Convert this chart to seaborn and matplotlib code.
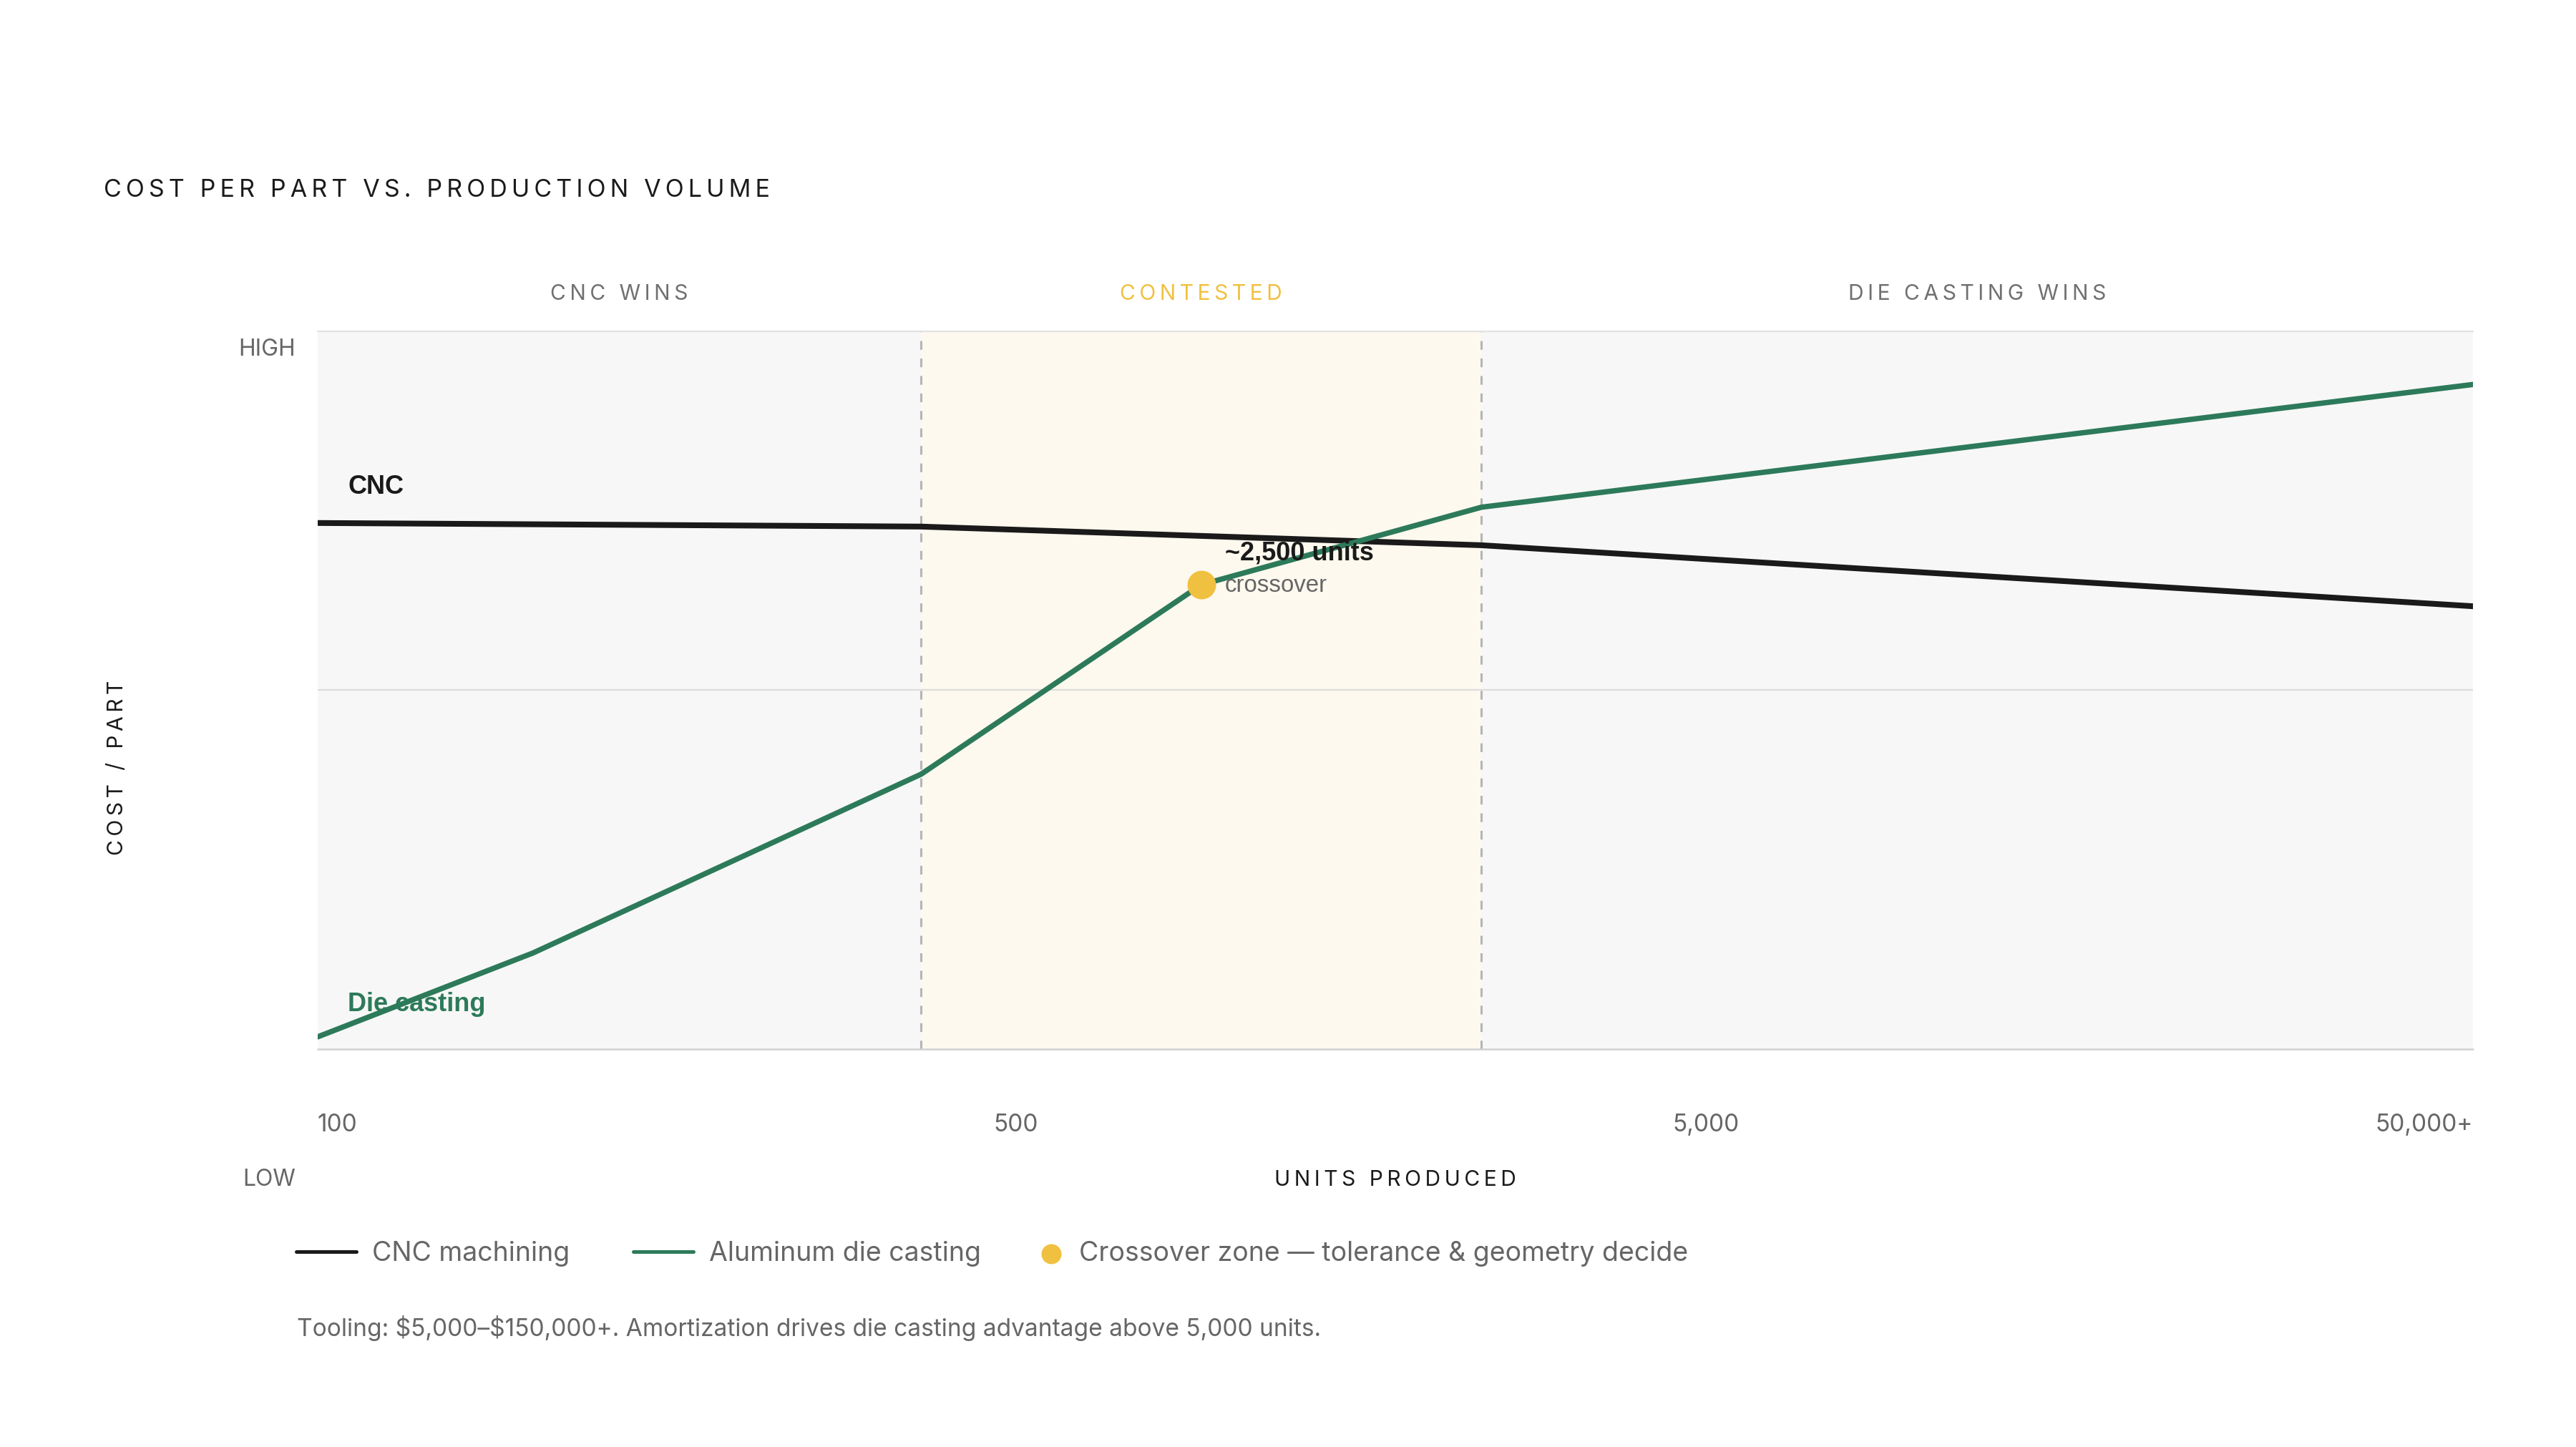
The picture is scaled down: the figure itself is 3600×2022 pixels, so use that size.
import matplotlib
matplotlib.use("Agg")
import matplotlib.pyplot as plt
import seaborn as sns
import pandas as pd

# x positions are share of the volume axis (0 = 100 units, 100 = 50,000+)
cnc_x = [0, 28, 54, 100]
cnc_cost = [73.3, 72.8, 70.2, 61.7]
die_x = [0, 10, 28, 41, 54, 100]
die_cost = [1.7, 13.4, 38.3, 64.7, 75.5, 92.6]
crossover_x = [41]
crossover_y = [64.7]

zone_edges = [0, 28, 54, 100]
zone_names = ["CNC WINS", "CONTESTED", "DIE CASTING WINS"]
tick_pos = [0, 32.4, 64.4, 100]
tick_labels = ["100", "500", "5,000", "50,000+"]

BLACK = "#1a1a1a"
GREEN = "#2d7a5a"
GOLD = "#f0c040"
GREY = "#666666"


def spaced(s):
    # css-like letter spacing with thin spaces
    return "\u2009".join(s)


sns.set_theme(style="white")
plt.rcParams["font.family"] = ["Inter", "DejaVu Sans"]

fig = plt.figure(figsize=(18, 10.11), dpi=200)
ax = fig.add_axes([0.1233, 0.2750, 0.8367, 0.4960])

# zone backgrounds
zone_bg = ["#f7f7f7", "#fdf9ee", "#f7f7f7"]
for i in range(3):
    ax.axvspan(zone_edges[i], zone_edges[i + 1], color=zone_bg[i], lw=0, zorder=0)
for xe in zone_edges[1:3]:
    ax.axvline(xe, color="#b5b5b5", lw=1.1, dashes=(4, 4), zorder=1)
ax.axhline(50, color="#dcdcdc", lw=0.8, zorder=1)
ax.axhline(100, color="#e2e2e2", lw=0.8, zorder=1, clip_on=False)
ax.axhline(0, color="#d0d0d0", lw=0.9, zorder=1, clip_on=False)

df_cnc = pd.DataFrame({"x": cnc_x, "cost": cnc_cost})
df_die = pd.DataFrame({"x": die_x, "cost": die_cost})
sns.lineplot(data=df_cnc, x="x", y="cost", ax=ax, color=BLACK, lw=2.9,
             label="CNC machining", zorder=3)
sns.lineplot(data=df_die, x="x", y="cost", ax=ax, color=GREEN, lw=2.7,
             label="Aluminum die casting", zorder=3)
dot = ax.scatter(crossover_x, crossover_y, s=207, color=GOLD, zorder=5, lw=0,
                 label="Crossover zone \u2014 tolerance & geometry decide")

ax.set_xlim(0, 100)
ax.set_ylim(0, 100)
for sp in ax.spines.values():
    sp.set_visible(False)
ax.set_xlabel("")
ax.set_ylabel("")
ax.set_yticks([])
ax.set_xticks(tick_pos, tick_labels)
ax.tick_params(axis="x", length=0, pad=32.5, labelsize=12, labelcolor=GREY)
xt = ax.get_xticklabels()
xt[0].set_ha("left")
xt[-1].set_ha("right")

# inline labels
lab_font = ["Liberation Sans", "DejaVu Sans"]
ax.text(1.4, 77.4, "CNC", color=BLACK, fontsize=13, fontweight="bold",
        family=lab_font, va="baseline", zorder=6)
ax.text(1.4, 5.3, "Die casting", color=GREEN, fontsize=13, fontweight="bold",
        family=lab_font, va="baseline", zorder=6)
ax.text(42.1, 68.1, "~2,500 units", color=BLACK, fontsize=13, fontweight="bold",
        family=lab_font, va="baseline", zorder=6)
ax.text(42.1, 63.7, "crossover", color=GREY, fontsize=11.9,
        family=lab_font, va="baseline", zorder=6)

# zone headers
zone_colors = ["#707070", GOLD, "#707070"]
for i, name in enumerate(zone_names):
    ax.text((zone_edges[i] + zone_edges[i + 1]) / 2, 104.4, spaced(name),
            ha="center", va="baseline", fontsize=10.8, color=zone_colors[i],
            clip_on=False)

ax.text(-0.0103, 0.966, "HIGH", transform=ax.transAxes, ha="right",
        va="baseline", fontsize=11.5, color=GREY)
ax.text(-0.0103, -0.190, "LOW", transform=ax.transAxes, ha="right",
        va="baseline", fontsize=11.5, color=GREY)
ax.text(0.5, -0.190, spaced("UNITS PRODUCED"), transform=ax.transAxes,
        ha="center", va="baseline", fontsize=10.8, color=BLACK)
ax.text(-0.093, 0.392, spaced("COST / PART"), transform=ax.transAxes,
        rotation=90, ha="center", va="center", fontsize=10.8, color=BLACK)

fig.text(145 / 3600, 1 - 275 / 2022, spaced("COST PER PART VS. PRODUCTION VOLUME"),
         ha="left", va="baseline", fontsize=12.25, color=BLACK)

# legend: two line entries, then the dot
ax.get_legend().remove()
handles, labels = ax.get_legend_handles_labels()
leg1 = fig.legend(handles[:2], labels[:2], loc="center left",
                  bbox_to_anchor=(414 / 3600, 0.1335), ncol=2, frameon=False,
                  fontsize=13.5, handlelength=2.24, handletextpad=0.59,
                  columnspacing=2.37, borderpad=0, borderaxespad=0)
for t in leg1.get_texts():
    t.set_color(GREY)
for ln in leg1.get_lines():
    ln.set_linewidth(1.8)
leg2 = fig.legend([dot], [labels[2]], loc="center left",
                  bbox_to_anchor=(1455 / 3600, 0.1335), frameon=False,
                  fontsize=13.5, handlelength=0.75, handletextpad=0.67,
                  markerscale=0.7, scatterpoints=1, borderpad=0, borderaxespad=0)
for t in leg2.get_texts():
    t.set_color(GREY)

fig.text(415 / 3600, 1 - 1867 / 2022,
         "Tooling: \\$5,000\u2013\\$150,000+. Amortization drives die casting advantage above 5,000 units.",
         ha="left", va="baseline", fontsize=12.05, color=GREY)

fig.savefig("out.png", dpi=200, facecolor="white")
